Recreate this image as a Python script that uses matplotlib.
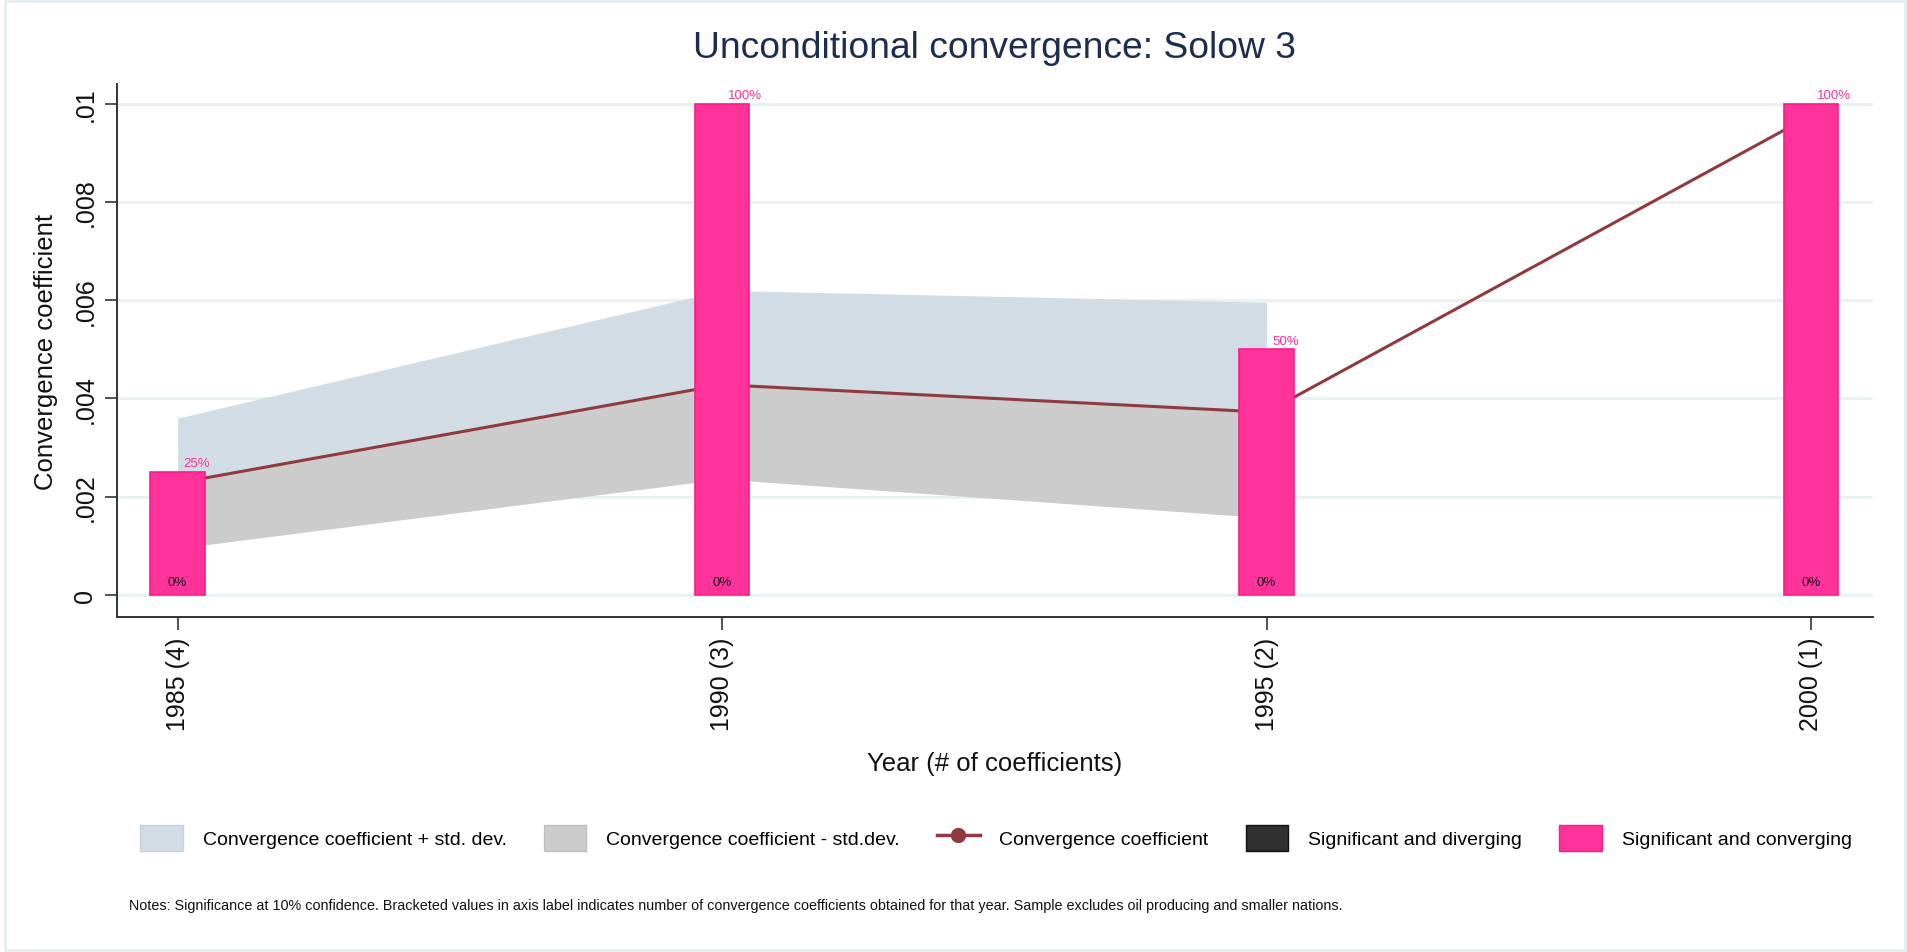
import numpy as np
import matplotlib
matplotlib.use("Agg")
import matplotlib.pyplot as plt
from matplotlib.patches import Patch, Rectangle
from matplotlib.lines import Line2D

plt.rcParams['font.family'] = ['Liberation Sans', 'DejaVu Sans']

# ---- data ----
years = np.array([1985, 1990, 1995, 2000])
n_coef = [4, 3, 2, 1]
xticklabels = [f"{y} ({n})" for y, n in zip(years, n_coef)]
coef = np.array([0.00228, 0.00428, 0.00372, 0.00976])
coef_plus_sd = np.array([0.00360, 0.00620, 0.00596, np.nan])
coef_minus_sd = np.array([0.00095, 0.00236, 0.00157, np.nan])
sig_conv = np.array([0.0025, 0.0100, 0.0050, 0.0100])
sig_div = np.array([0.0, 0.0, 0.0, 0.0])
conv_labels = ["25%", "100%", "50%", "100%"]
div_labels = ["0%", "0%", "0%", "0%"]
yticks = [0, 0.002, 0.004, 0.006, 0.008, 0.01]
yticklabels = ["0", ".002", ".004", ".006", ".008", ".01"]
title = "Unconditional convergence: Solow 3"
xlabel = "Year (# of coefficients)"
ylabel = "Convergence coefficient"
legend_labels = ["Convergence coefficient + std. dev.",
                 "Convergence coefficient - std.dev.",
                 "Convergence coefficient",
                 "Significant and diverging",
                 "Significant and converging"]
notes = ("Notes: Significance at 10% confidence. Bracketed values in axis label indicates number of "
         "convergence coefficients obtained for that year. Sample excludes oil producing and smaller nations.")

# ---- styles ----
c_plus = '#d2dce5'
c_minus = '#cccccc'
c_line = '#903a40'
c_pink = '#ff3399'
c_pink_edge = '#ff1a8c'
c_dark = '#303030'
c_grid = '#eaf1f3'
c_title = '#1c2d4f'

W, H = 1907, 953
fig = plt.figure(figsize=(W / 100, H / 100), dpi=100)
fig.patch.set_facecolor('white')
fig.patches.append(Rectangle((5 / W, 2 / H), 1900 / W, 949 / H, transform=fig.transFigure,
                             fill=False, edgecolor='#e6eef1', lw=2.0))

ax = fig.add_axes([116.75 / W, 1 - 618 / H, (1873 - 116.75) / W, 533 / H])
ax.set_xlim(1984.441, 2000.569)
ax.set_ylim(-0.000448, 0.0104)

m = np.isfinite(coef_plus_sd)
ax.fill_between(years[m], coef[m], coef_plus_sd[m], color=c_plus, lw=0, zorder=1)
ax.fill_between(years[m], coef_minus_sd[m], coef[m], color=c_minus, lw=0, zorder=1)
ax.plot(years, coef, color=c_line, lw=2.2, marker='o', markersize=10, zorder=2)

ax.bar(years, sig_div, width=0.5, color=c_dark, lw=0, zorder=3)
ax.bar(years, sig_conv, width=0.5, color=c_pink, edgecolor=c_pink_edge, lw=1.2, zorder=3)

for x, h, lab in zip(years, sig_conv, conv_labels):
    ax.annotate(lab, (x, h), xytext=(4, 2), textcoords='offset points',
                ha='left', va='bottom', fontsize=9.5, color=c_pink, zorder=4)
for x, h, lab in zip(years, sig_div, div_labels):
    ax.annotate(lab, (x, h), xytext=(0, 9), textcoords='offset points',
                ha='center', va='center', fontsize=9.5, color='#141420', zorder=4)

ax.set_yticks(yticks)
ax.set_yticklabels(yticklabels, rotation=90, va='center')
ax.set_xticks(years)
ax.set_xticklabels(xticklabels, rotation=90)
ax.tick_params(axis='both', labelsize=18, length=9, width=1.2, color='#333333', labelcolor='#111111')
ax.tick_params(axis='y', pad=5)
ax.tick_params(axis='x', pad=5)

ax.yaxis.grid(True, color=c_grid, lw=2.2)
ax.set_axisbelow(True)
for s in ['top', 'right']:
    ax.spines[s].set_visible(False)
for s in ['left', 'bottom']:
    ax.spines[s].set_color('#333333')
    ax.spines[s].set_linewidth(1.4)

ax.set_xlabel(xlabel, fontsize=18.5, color='#111111')
ax.xaxis.label.set_va('center')
ax.xaxis.set_label_coords(0.5, (618 - 764) / 533)
ax.set_ylabel(ylabel, fontsize=18.5, color='#111111')
ax.yaxis.label.set_va('center')
ax.yaxis.set_label_coords((46 - 116.75) / (1873 - 116.75), 0.5)

ax.set_title(title, fontsize=26.8, color=c_title, y=(618 - 57) / 533, va='center')

handles = [Patch(facecolor=c_plus, edgecolor='#c5d1db'),
           Patch(facecolor=c_minus, edgecolor='#bdbdbd'),
           Line2D([], [], color=c_line, lw=2.5, marker='o', markersize=10),
           Patch(facecolor=c_dark, edgecolor='#111111'),
           Patch(facecolor=c_pink, edgecolor=c_pink_edge)]
fig.legend(handles, legend_labels, ncol=5, loc='center left',
           bbox_to_anchor=(140 / W, 1 - 839 / H), frameon=False, fontsize=14,
           handlelength=2.2, handleheight=1.65, handletextpad=1.02, columnspacing=1.9,
           borderpad=0, borderaxespad=0)

fig.text(129 / W, 1 - 906 / H, notes, fontsize=10.4, ha='left', va='center', color='#111111')

fig.savefig('out.png', dpi=100)
